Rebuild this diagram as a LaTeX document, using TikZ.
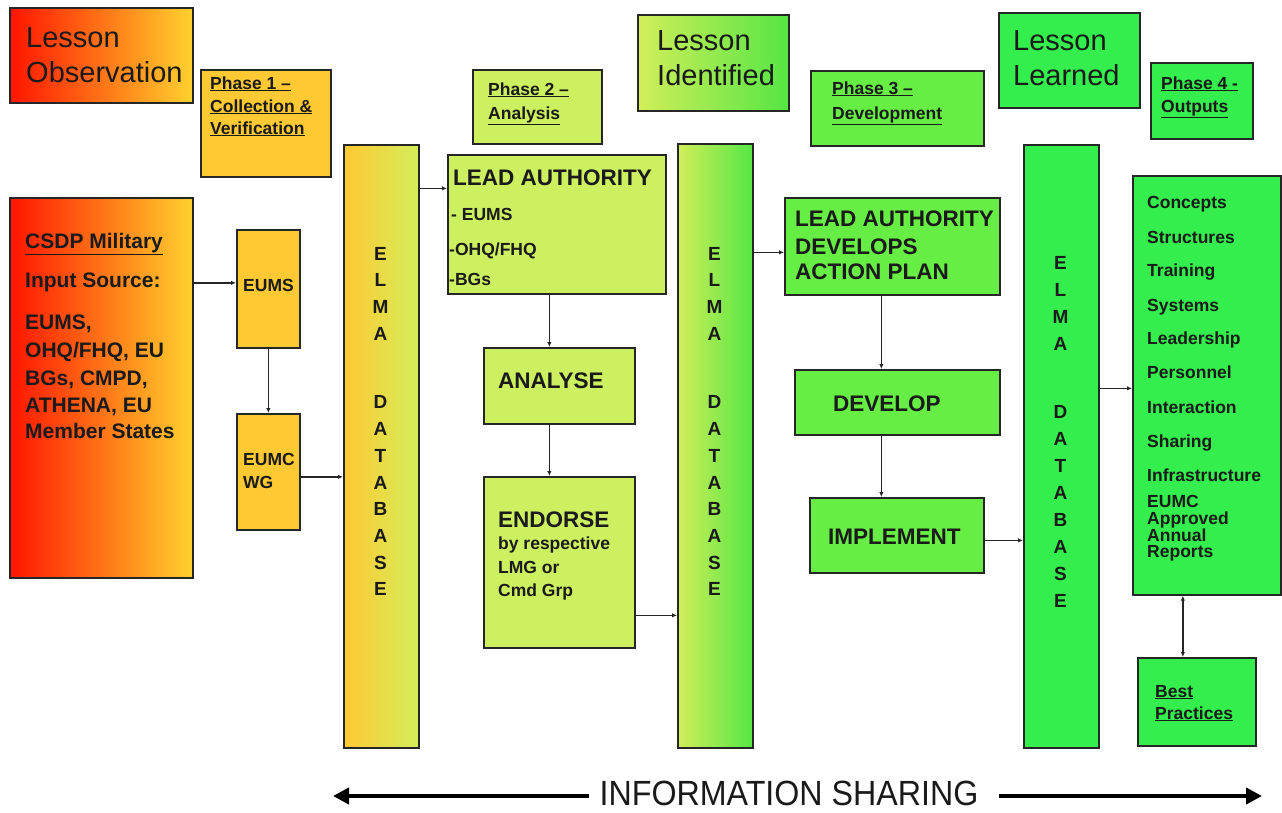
\documentclass[tikz,border=0pt]{standalone}
\usepackage{fontspec}
\setmainfont{Liberation Sans}
\usetikzlibrary{arrows.meta}
\definecolor{bordc}{HTML}{262626}
\definecolor{txtc}{HTML}{1A1A1A}
\definecolor{gold}{HTML}{FFC933}
\definecolor{redc}{HTML}{FF1500}
\definecolor{orng}{HTML}{FF9A00}
\definecolor{ylw}{HTML}{FFD22E}
\definecolor{lime}{HTML}{CCF060}
\definecolor{limeb}{HTML}{D2EE5A}
\definecolor{midg}{HTML}{66EE44}
\definecolor{greenr}{HTML}{55E644}
\definecolor{brg}{HTML}{33EE4D}
\newcommand\fs[1]{\fontsize{#1}{#1}\selectfont}
\newcommand\bx[6]{\node[box,#6,minimum width={#4-#2},minimum height={#5-#3}] (#1) at (#2,#3) {};}
\begin{document}
\begin{tikzpicture}[x=1pt,y=-1pt,
 box/.style={draw=bordc, line width=1.7pt, anchor=north west, inner sep=0pt},
 t/.style={anchor=base west, inner sep=0pt, text=txtc},
 big/.style={t, font=\fs{29}},
 ph/.style={t, font=\fs{17.5}\bfseries},
 hd/.style={t, font=\fs{22.5}\bfseries},
 sm/.style={t, font=\fs{17.5}\bfseries},
 inp/.style={t, font=\fs{21}\bfseries},
 lt/.style={anchor=base, inner sep=0pt, text=txtc, font=\fs{19}\bfseries},
 arr/.style={draw=bordc, line width=1.3pt, -{Latex[length=5pt,width=4.5pt]}},
 dbl/.style={draw=bordc, line width=1.5pt, {Latex[length=5pt,width=4.5pt]}-{Latex[length=5pt,width=4.5pt]}},
 bigarr/.style={draw=black, line width=4.5pt, -{Triangle[length=16pt,width=16pt]}},
]
\useasboundingbox (0,0) rectangle (1282,812);
% boxes
\bx{lobs}{9}{7}{192}{102}{left color=redc, middle color=orng, right color=ylw}
\bx{ph1}{200}{69}{330}{176}{fill=gold}
\bx{ph2}{472}{69}{601}{143}{fill=lime}
\bx{lid}{637}{14}{788}{110}{left color=limeb, right color=greenr}
\bx{ph3}{810}{70}{983}{145}{fill=midg}
\bx{lle}{998}{12}{1139}{107}{fill=brg}
\bx{ph4}{1150}{62}{1252}{138}{fill=brg}
\bx{input}{9}{197}{192}{577}{left color=redc, middle color=orng, right color=ylw}
\bx{eums}{236}{229}{299}{347}{fill=gold}
\bx{eumc}{236}{413}{299}{529}{fill=gold}
\bx{elma1}{343}{144}{418}{747}{left color=gold, right color=limeb}
\bx{lead}{447}{154}{665}{293}{fill=lime}
\bx{analyse}{483}{347}{634}{423}{fill=lime}
\bx{endorse}{483}{476}{634}{647}{fill=lime}
\bx{elma2}{677}{143}{752}{747}{left color=limeb, right color=greenr}
\bx{lad}{784}{197}{999}{294}{fill=midg}
\bx{develop}{794}{369}{999}{434}{fill=midg}
\bx{implement}{809}{497}{983}{572}{fill=midg}
\bx{elma3}{1023}{144}{1098}{747}{fill=brg}
\bx{outputs}{1132}{175}{1280}{594}{fill=brg}
\bx{best}{1137}{657}{1255}{745}{fill=brg}
% titles
\node[big] (lobsa) at (26,47) {Lesson};
\node[big] (lobsb) at (26,82) {Observation};
\node[big] (lida) at (657,50) {Lesson};
\node[big] (lidb) at (657,85) {Identified};
\node[big] (llea) at (1013,50) {Lesson};
\node[big] (lleb) at (1013,85) {Learned};
% phases
\node[ph] (p1a) at (210,89) {\underline{Phase 1 –}};
\node[ph] (p1b) at (210,112) {\underline{Collection \&}};
\node[ph] (p1c) at (210,134) {\underline{Verification}};
\node[ph] (p2a) at (488,95) {\underline{Phase 2 –}};
\node[ph] (p2b) at (488,119) {\underline{Analysis}};
\node[ph] (p3a) at (832,94) {\underline{Phase 3 –}};
\node[ph] (p3b) at (832,119) {\underline{Development}};
\node[ph] (p4a) at (1161,89) {\underline{Phase 4 -}};
\node[ph] (p4b) at (1161,112) {\underline{Outputs}};
% input
\node[inp] (ia) at (25,248) {\underline{CSDP Military}};
\node[inp] (ib) at (25,287) {Input Source:};
\node[inp] (ic) at (25,329) {EUMS,};
\node[inp] (id) at (25,357) {OHQ/FHQ, EU};
\node[inp] (ie) at (25,385) {BGs, CMPD,};
\node[inp] (if) at (25,412) {ATHENA, EU};
\node[inp] (ig) at (25,438) {Member States};
\node[sm] (te1) at (243,291) {EUMS};
\node[sm] (te2) at (243,465) {EUMC};
\node[sm] (te3) at (243,488) {WG};
% phase 2 column
\node[hd] (la1) at (453,185) {LEAD AUTHORITY};
\node[sm] (la2) at (451,220) {- EUMS};
\node[sm] (la3) at (449,255) {-OHQ/FHQ};
\node[sm] (la4) at (449,285) {-BGs};
\node[hd] (an1) at (498,388) {ANALYSE};
\node[hd] (en1) at (498,527) {ENDORSE};
\node[sm] (en2) at (498,549) {by respective};
\node[sm] (en3) at (498,573) {LMG or};
\node[sm] (en4) at (498,596) {Cmd Grp};
% phase 3 column
\node[hd] (ld1) at (795,226) {LEAD AUTHORITY};
\node[hd] (ld2) at (795,254) {DEVELOPS};
\node[hd] (ld3) at (795,279) {ACTION PLAN};
\node[hd] (dv1) at (833,411) {DEVELOP};
\node[hd] (im1) at (828,544) {IMPLEMENT};
% outputs
\foreach \w/\yy [count=\i] in {Concepts/208,Structures/243,Training/276,Systems/311,Leadership/344,Personnel/378,Interaction/413,Sharing/447,Infrastructure/481,EUMC/507,Approved/524,Annual/541,Reports/557}
  \node[sm] (out\i) at (1147,\yy) {\w};
\node[sm] (bp1) at (1155,697) {\underline{Best}};
\node[sm] (bp2) at (1155,719) {\underline{Practices}};
% ELMA letters
\foreach \l/\k [count=\i] in {E/0,L/1,M/2,A/3,D/5.58,A/6.58,T/7.58,A/8.58,B/9.58,A/10.58,S/11.58,E/12.58} {
  \node[lt] (ea\i) at (380.5,{260+\k*26.7}) {\l};
  \node[lt] (eb\i) at (714.5,{260+\k*26.7}) {\l};
}
\foreach \l/\k [count=\i] in {E/0,L/1,M/2,A/3,D/5.52,A/6.52,T/7.52,A/8.52,B/9.52,A/10.52,S/11.52,E/12.52}
  \node[lt] (ec\i) at (1060.5,{269+\k*27}) {\l};
% connectors
\draw[arr] ([yshift=6pt]eums.west -| input.east) -- ([yshift=6pt]eums.west);
\draw[arr] (eums.south) -- (eumc.north);
\draw[arr] ([yshift=-5pt]eumc.east) -- ([yshift=-5pt]eumc.east -| elma1.west);
\draw[arr] ([yshift=36pt]lead.west -| elma1.east) -- ([yshift=36pt]lead.west);
\draw[arr] ([xshift=-10pt]analyse.north |- lead.south) -- ([xshift=-10pt]analyse.north);
\draw[arr] ([xshift=-10pt]analyse.south) -- ([xshift=-10pt]endorse.north);
\draw[arr] ([yshift=-53pt]endorse.east) -- ([yshift=-53pt]endorse.east -| elma2.west);
\draw[arr] ([yshift=-6pt]lad.west -| elma2.east) -- ([yshift=-6pt]lad.west);
\draw[arr] ([xshift=-16pt]develop.north |- lad.south) -- ([xshift=-16pt]develop.north);
\draw[arr] ([xshift=-16pt]develop.south) -- ([xshift=-16pt]develop.south |- implement.north);
\draw[arr] ([yshift=-5pt]implement.east) -- ([yshift=-5pt]implement.east -| elma3.west);
\draw[arr] ([yshift=-3pt]outputs.west -| elma3.east) -- ([yshift=-3pt]outputs.west);
\draw[dbl] ([xshift=-14pt]best.north) -- ([xshift=-14pt]best.north |- outputs.south);
% information sharing
\node[inner sep=0pt, anchor=base, font=\fs{35}, text=txtc] (info) at (789,805) {\scalebox{0.92}[1]{INFORMATION SHARING}};
\coordinate (la) at (333,796);
\coordinate (ra) at (1262,796);
\draw[bigarr] ([xshift=-10pt]info.west |- la) -- (la);
\draw[bigarr] ([xshift=20pt]info.east |- ra) -- (ra);
\end{tikzpicture}
\end{document}
